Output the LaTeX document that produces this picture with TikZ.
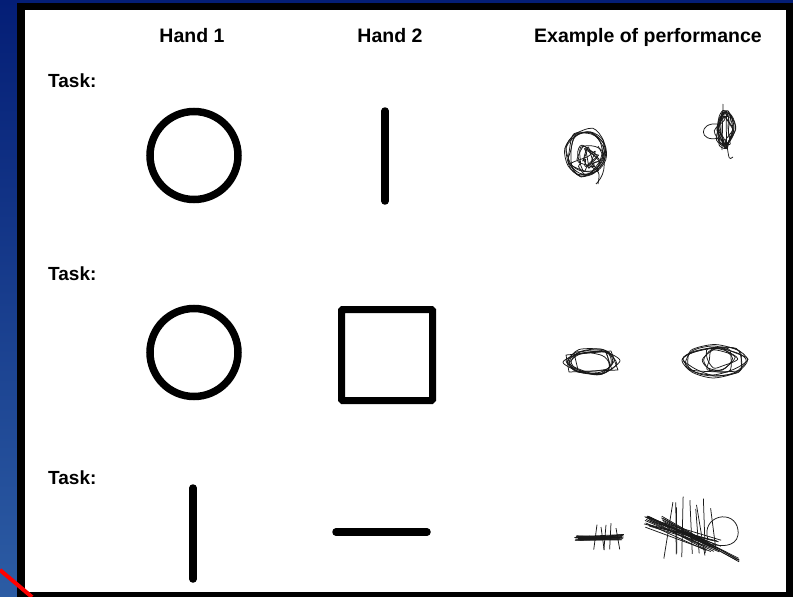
\documentclass[tikz,border=0pt]{standalone}
\usepackage{fontspec}
\setmainfont{Liberation Sans}
\usepackage{xcolor}
\usepackage{tikz}
\usetikzlibrary{positioning, shapes.geometric}

\definecolor{slidetop}{RGB}{4,30,118}
\definecolor{slidebot}{RGB}{44,92,164}

\begin{document}
\begin{tikzpicture}[
  x=1pt, y=-1pt,
  head/.style={font=\bfseries\fontsize{19.5}{22}\selectfont, anchor=base},
  tasklbl/.style={font=\bfseries\fontsize{19}{22}\selectfont, anchor=base west, inner sep=0pt},
  shapeline/.style={line width=7.5pt, line cap=round},
  scribble/.style={line width=0.75pt, line join=round, black!90}
]
  \useasboundingbox (0,0) rectangle (793,597);
  % slide and frame
  \shade[top color=slidetop, bottom color=slidebot] (0,0) rectangle (793,597);
  \fill[black] (17,3) rectangle (793,597);
  \fill[white] (25,10) rectangle (786,592);
  \draw[red, line width=4pt] (0,570) -- (32,597);

  % column heads
  \node[head] (h1) at (192,42) {Hand 1};
  \node[head] (h2) at (390,42) {Hand 2};
  \node[head] (h3) at (648,42) {Example of performance};

  \node[tasklbl] (t1) at (48,87) {Task:};
  \node[tasklbl] (t2) at (48,280) {Task:};
  \node[tasklbl] (t3) at (48,484) {Task:};

  % row 1
  \node[circle, draw, line width=7.5pt, minimum size=88pt, inner sep=0pt] (c1) at (194,155.5) {};
  \draw[shapeline] (385,111) -- (385,201);

  % row 2
  \node[circle, draw, line width=7.5pt, minimum size=88pt, inner sep=0pt] (c2) at (194,352.5) {};
  \node[rectangle, draw, line width=7pt, minimum size=91pt, inner sep=0pt, rounded corners=1pt] (sq) at (387,355) {};

  % row 3
  \draw[shapeline] (193,488) -- (193,579);
  \draw[shapeline] (336,532) -- (427,532);

  % performance, row 1
  \pgfmathsetseed{23}
  \foreach \k in {1,...,6}
    \draw[scribble, rotate around={-15:(586,154)}]
      plot[smooth cycle, domain=0:315, samples=8]
      ({586+2*rand+(19+3*rand)*cos(\x)}, {154+2*rand+(22+3*rand)*sin(\x)});
  \foreach \k in {1,...,7}
    \draw[scribble]
      plot[smooth cycle, domain=0:300, samples=6]
      ({588+7*rand+(9+3*rand)*cos(\x)}, {158+7*rand+(11+3*rand)*sin(\x)});
  \draw[scribble] (598,146) .. controls (610,165) and (602,178) .. (596,184);
  \draw[scribble] (590,166) .. controls (600,172) .. (598,184);
  \foreach \k in {1,...,10}
    \draw[scribble]
      plot[smooth cycle, domain=0:315, samples=8]
      ({725+3*rand+(6+3*rand)*cos(\x)}, {129+2*rand+(16+4*rand)*sin(\x)});
  \draw[scribble] (719,138) .. controls (698,143) and (699,122) .. (717,124);
  \draw[scribble] (723,104) -- (722,150);
  \draw[scribble] (727,145) .. controls (729,160) .. (733,157);

  % performance, row 2
  \foreach \k in {1,...,7}
    \draw[scribble]
      plot[smooth cycle, domain=0:300, samples=6]
      ({591+3*rand+(24+4*rand)*cos(\x)}, {362+2*rand+(11+2*rand)*sin(\x)});
  \draw[scribble] (566,355) -- (611,351) -- (618,370) -- (569,372) -- cycle;
  \draw[scribble] (574,353) -- (578,370) (606,352) -- (612,370);
  \foreach \k in {1,...,5}
    \draw[scribble]
      plot[smooth cycle, domain=0:315, samples=8]
      ({715+2*rand+(30+4*rand)*cos(\x)}, {361+2*rand+(14+2*rand)*sin(\x)});
  \foreach \k in {1,...,4}
    \draw[scribble]
      plot[smooth cycle, domain=0:300, samples=6]
      ({718+4*rand+(14+3*rand)*cos(\x)}, {359+2*rand+(11+2*rand)*sin(\x)});

  % performance, row 3
  \foreach \k in {1,...,18}
    \draw[scribble] ({577+3*rand},{538+2.5*rand}) -- ({621+3*rand},{537+3*rand});
  \foreach \xx in {597,601,606,611,616}
    \draw[scribble] (\xx,{526+3*rand}) -- ({\xx+4*rand},{551+2*rand});
  \foreach \k in {1,...,20}
    \draw[scribble] ({648+4*rand},{522+6*rand}) -- ({712+10*rand},{546+6*rand});
  \foreach \k in {1,...,5}
    \draw[scribble] ({660+6*rand},{520+4*rand}) -- ({738+2*rand},{560+2*rand});
  \foreach \xx in {670,674,678,684,690,694,699,704,709}
    \draw[scribble] ({\xx+3*rand},{503+8*rand}) -- ({\xx+8*rand},{552+8*rand});
  \draw[scribble] (708,540) .. controls (700,515) and (735,508) .. (738,530)
                         .. controls (740,545) and (725,548) .. (712,544);
\end{tikzpicture}
\end{document}
